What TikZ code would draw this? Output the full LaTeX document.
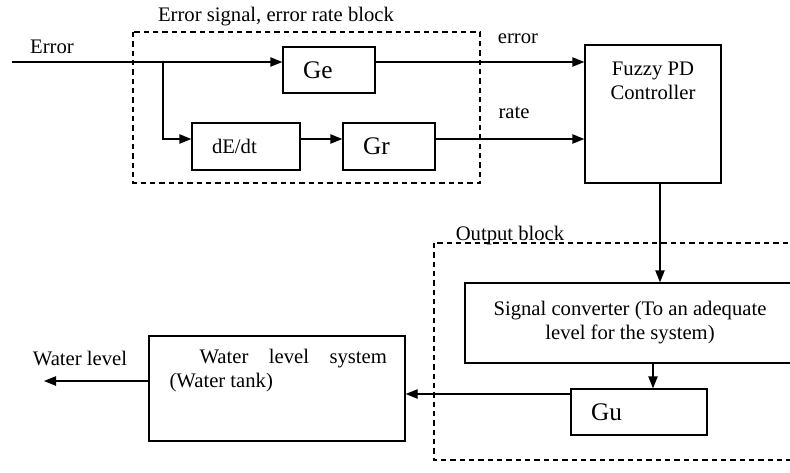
\documentclass[tikz,border=0pt]{standalone}
\usepackage{fontspec}
\setmainfont{Liberation Serif}
\usetikzlibrary{arrows.meta}

\tikzset{
  blk/.style={draw, line width=1pt, inner xsep=15pt, align=left},
  box/.style={draw, line width=1pt},
  grp/.style={draw, line width=0.8pt, dash pattern=on 4pt off 3pt},
  arr/.style={line width=1pt, -{Triangle[length=9pt,width=7pt]}},
  big/.style={font=\fontsize{19}{22}\selectfont}
}

\begin{document}
\begin{tikzpicture}[x=0.75pt, y=-0.75pt, font=\fontsize{15.5}{18}\selectfont]
\clip (0,0) rectangle (790,472);
% frames of the two blocks
\draw[grp] (133,32) rectangle (480,183);
\draw[grp] (434,243) rectangle (800,460);
\node (tframe) at (276,17) {Error signal, error rate block};
\node (oframe) at (510,236) {Output block};
% blocks
\node[blk, big, text width=39pt, minimum height=34.5pt] (ge) at (329,70) {Ge};
\node[blk, text width=51pt, minimum height=35.25pt] (dedt) at (246,146.5) {dE/dt};
\node[blk, big, text width=39pt, minimum height=35.25pt] (gr) at (389,146.5) {Gr};
\node[box, minimum width=102pt, minimum height=103.5pt,
  label={[anchor=north, align=center, inner sep=0pt, yshift=-13pt]north:Fuzzy PD\\Controller}] (fuzzy) at (653,114) {};
\node[box, align=center, minimum width=247.5pt, minimum height=60pt] (conv) at (630,323)
  {Signal converter (To an adequate\\level for the system)};
\node[blk, big, text width=72pt, minimum height=34.5pt] (gu) at (639,412) {Gu};
\node[box, minimum width=192pt, minimum height=78.75pt,
  label={[anchor=north west, text width=163pt, align=justify, inner sep=0pt, xshift=15.75pt, yshift=-10.5pt]north west:\hspace*{22.5pt}Water level system\linebreak (Water tank)}] (wls) at (277,388.5) {};
% signal labels
\node (lerr) at (52,47) {Error};
\node (lerr2) at (518,39) {error};
\node (lrate) at (514,113) {rate};
\node (lwl) at (80,358) {Water level};
% rows and columns of the connectors
\coordinate (rowe) at (0,62);
\coordinate (rowr) at (0,139);
\coordinate (rowu) at (0,394);
\coordinate (roww) at (0,381);
\coordinate (col1) at (660,0);
\coordinate (col2) at (653,0);
\coordinate (ein) at (12,62);
\coordinate (tap) at (163,62);
\coordinate (wout) at (44,381);
% connectors
\draw[arr] (ein) -- (rowe -| ge.west);
\draw[arr] (tap) |- (rowr -| dedt.west);
\draw[arr] (rowr -| dedt.east) -- (rowr -| gr.west);
\draw[arr] (rowe -| ge.east) -- (rowe -| fuzzy.west);
\draw[arr] (rowr -| gr.east) -- (rowr -| fuzzy.west);
\draw[arr] (col1 |- fuzzy.south) -- (col1 |- conv.north);
\draw[arr] (col2 |- conv.south) -- (col2 |- gu.north);
\draw[arr] (rowu -| gu.west) -- (rowu -| wls.east);
\draw[arr] (roww -| wls.west) -- (wout);
\end{tikzpicture}
\end{document}
